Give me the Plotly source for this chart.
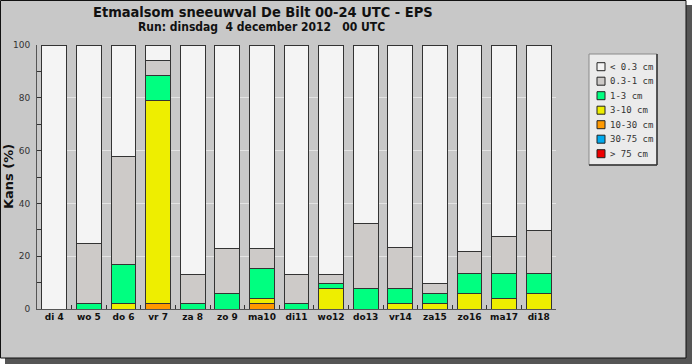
import plotly.graph_objects as go

# ---------------- data ----------------
days = ["di 4", "wo 5", "do 6", "vr 7", "za 8", "zo 9", "ma10", "di11",
        "wo12", "do13", "vr14", "za15", "zo16", "ma17", "di18"]

# probability (%) per class, non-cumulative
p_gt75   = [0, 0, 0, 0, 0, 0, 0, 0, 0, 0, 0, 0, 0, 0, 0]
p_30_75  = [0, 0, 0, 0, 0, 0, 0, 0, 0, 0, 0, 0, 0, 0, 0]
p_10_30  = [0, 0, 0, 1.9, 0, 0, 1.9, 0, 0, 0, 0, 0, 0, 0, 0]
p_3_10   = [0, 0, 1.9, 77.2, 0, 0, 1.9, 0, 7.6, 0, 1.9, 1.9, 5.7, 3.8, 5.7]
p_1_3    = [0, 1.9, 15.1, 9.5, 1.9, 5.7, 11.4, 1.9, 1.9, 7.6, 6.0, 3.8, 7.9, 9.8, 7.9]
p_03_1   = [0, 23.1, 40.7, 5.6, 11.3, 17.1, 7.6, 11.3, 3.7, 24.9, 15.4, 4.1, 8.0, 13.9, 16.0]

class_labels = ["< 0.3 cm", "0.3-1 cm", "1-3 cm", "3-10 cm", "10-30 cm", "30-75 cm", "> 75 cm"]
class_colors = ["#f4f4f4", "#cdcac8", "#00ff80", "#eeee00", "#ff9900", "#00aaee", "#ee0000"]

title_text = "Etmaalsom sneeuwval De Bilt 00-24 UTC - EPS"
subtitle_text = "Run: dinsdag\u00a0\u00a04 december 2012\u00a0\u00a0\u00a000 UTC"

# ---------------- geometry helpers ----------------
W, H = 692, 364
L, R, T, B = 37, 556, 45, 309


def px_x(px):
    return (px - L) / (R - L)


def px_y(py):
    return (B - py) / (B - T)


p_lt03 = [round(100 - (a + b + c + d + e + f), 1)
          for a, b, c, d, e, f in zip(p_gt75, p_30_75, p_10_30, p_3_10, p_1_3, p_03_1)]

# bottom -> top stacking order
stack = [p_gt75, p_30_75, p_10_30, p_3_10, p_1_3, p_03_1, p_lt03]
stack_colors = list(reversed(class_colors))
stack_names = list(reversed(class_labels))

fig = go.Figure()
for vals, col, name in zip(stack, stack_colors, stack_names):
    fig.add_trace(go.Bar(
        x=days, y=[v if v > 0 else None for v in vals], name=name,
        marker=dict(color=col, line=dict(color="#333333", width=1)),
        showlegend=False,
    ))

shapes = []
# drop shadow + grey panel
shapes.append(dict(type="rect", xref="paper", yref="paper", layer="below",
                   x0=px_x(5), x1=px_x(692), y0=px_y(364), y1=px_y(5),
                   fillcolor="#555555", line=dict(width=0)))
shapes.append(dict(type="rect", xref="paper", yref="paper", layer="below",
                   x0=px_x(0.5), x1=px_x(686), y0=px_y(358), y1=px_y(0.5),
                   fillcolor="#c8c8c8", line=dict(color="#111111", width=1)))

# legend box
lx0, lx1, ly0, ly1 = 589, 657, 54, 165
shapes.append(dict(type="rect", xref="paper", yref="paper",
                   x0=px_x(lx0), x1=px_x(lx1), y0=px_y(ly1), y1=px_y(ly0),
                   fillcolor="#ebebeb", line=dict(color="#8a8a8a", width=1)))
shapes.append(dict(type="line", xref="paper", yref="paper",
                   x0=px_x(lx0), x1=px_x(lx1), y0=px_y(ly1), y1=px_y(ly1),
                   line=dict(color="#333333", width=1.5)))
shapes.append(dict(type="line", xref="paper", yref="paper",
                   x0=px_x(lx1), x1=px_x(lx1), y0=px_y(ly1), y1=px_y(ly0),
                   line=dict(color="#333333", width=1.5)))

annotations = []
item_y0, item_dy = 66.7, 14.5
for i, (lab, col) in enumerate(zip(class_labels, class_colors)):
    cy = item_y0 + i * item_dy
    shapes.append(dict(type="rect", xref="paper", yref="paper",
                       x0=px_x(597), x1=px_x(605), y0=px_y(cy + 4), y1=px_y(cy - 4),
                       fillcolor=col, line=dict(color="#222222", width=1)))
    annotations.append(dict(xref="paper", yref="paper", x=px_x(607.5), y=px_y(cy),
                            text=lab, showarrow=False, xanchor="left", yanchor="middle",
                            font=dict(family="DejaVu Sans Mono", size=9, color="#333333")))

annotations.append(dict(xref="paper", yref="paper", x=px_x(262.5), y=px_y(12),
                        text="<b>" + title_text + "</b>", showarrow=False,
                        xanchor="center", yanchor="middle",
                        font=dict(family="DejaVu Sans Condensed, DejaVu Sans", size=14.5, color="#111111")))
annotations.append(dict(xref="paper", yref="paper", x=px_x(261.5), y=px_y(27),
                        text="<b>" + subtitle_text + "</b>", showarrow=False,
                        xanchor="center", yanchor="middle",
                        font=dict(family="DejaVu Sans Condensed, DejaVu Sans", size=12, color="#111111")))
annotations.append(dict(xref="paper", yref="paper", x=px_x(8), y=px_y(177),
                        text="<b>Kans (%)</b>", showarrow=False, textangle=-90,
                        xanchor="center", yanchor="middle",
                        font=dict(family="DejaVu Sans", size=13, color="#111111")))

fig.update_layout(
    width=W, height=H,
    margin=dict(l=L, r=W - R, t=T, b=H - B, pad=0),
    paper_bgcolor="#ffffff", plot_bgcolor="#ffffff",
    barmode="stack", bargap=0.28,
    shapes=shapes, annotations=annotations,
    showlegend=False,
    xaxis=dict(
        type="category", showline=True, linecolor="#555555", linewidth=1,
        ticks="inside", tickson="boundaries", ticklen=4, tickcolor="#333333",
        showgrid=False, mirror=False, tickangle=0, ticklabelstandoff=-1,
        tickfont=dict(family="DejaVu Sans", size=9, color="#111111", weight="bold"),
        fixedrange=True,
    ),
    yaxis=dict(
        range=[0, 100], showline=True, linecolor="#555555", linewidth=1,
        tickvals=[0, 20, 40, 60, 80, 100], ticks="inside", ticklen=4, tickcolor="#333333",
        showgrid=True, gridcolor="#e4e4e4", gridwidth=1, zeroline=False,
        minor=dict(dtick=10, ticks="inside", ticklen=4, tickcolor="#333333", showgrid=False),
        tickfont=dict(family="DejaVu Sans", size=9, color="#333333"),
        ticklabelstandoff=4,
        fixedrange=True,
    ),
    font=dict(family="DejaVu Sans"),
)

fig.write_html("out.html")
